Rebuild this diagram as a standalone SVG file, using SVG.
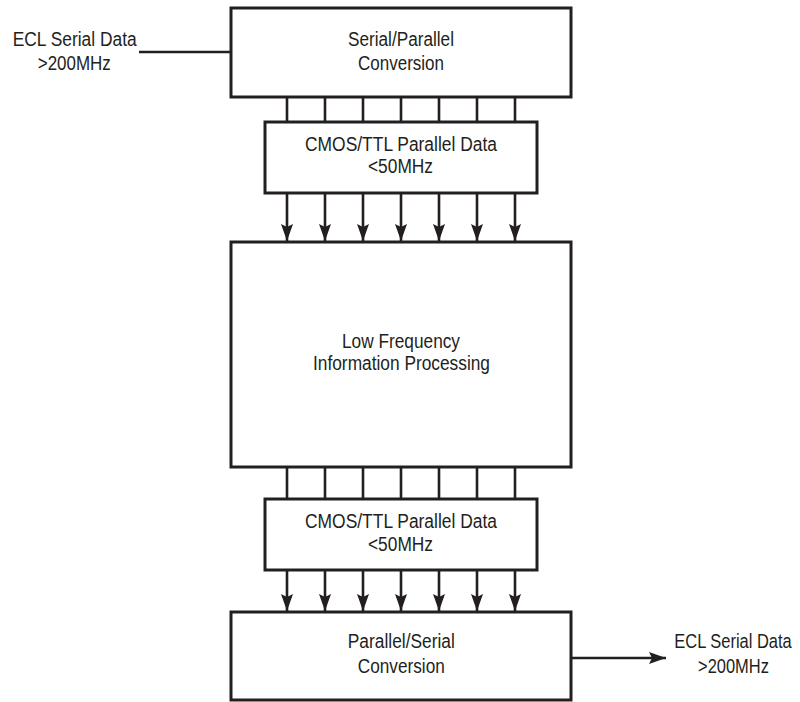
<svg xmlns="http://www.w3.org/2000/svg" width="800" height="702" viewBox="0 0 800 702">
<style>
.box{fill:#fff;stroke:#231f20;stroke-width:3}
.ln{stroke:#231f20;stroke-width:2.6;fill:none}
.t{font-family:"Liberation Sans",Arial,sans-serif;font-size:19.5px;fill:#231f20;text-anchor:middle}
</style>
<defs>
<marker id="ah" markerUnits="userSpaceOnUse" markerWidth="20" markerHeight="14" refX="17" refY="6.5" orient="auto">
<path d="M0,0.5 L17,6.5 L0,12.5 L3,6.5 Z" fill="#231f20"/>
</marker>
</defs>
<rect width="800" height="702" fill="#fff"/>
<g id="connectors">
<line class="ln" x1="139" y1="52" x2="231" y2="52"/>
<g id="bus1">
<line class="ln" x1="287" y1="97" x2="287" y2="122"/>
<line class="ln" x1="325" y1="97" x2="325" y2="122"/>
<line class="ln" x1="363" y1="97" x2="363" y2="122"/>
<line class="ln" x1="401" y1="97" x2="401" y2="122"/>
<line class="ln" x1="439" y1="97" x2="439" y2="122"/>
<line class="ln" x1="477" y1="97" x2="477" y2="122"/>
<line class="ln" x1="515" y1="97" x2="515" y2="122"/>
</g>
<g id="bus2">
<line class="ln" x1="287" y1="193" x2="287" y2="241" marker-end="url(#ah)"/>
<line class="ln" x1="325" y1="193" x2="325" y2="241" marker-end="url(#ah)"/>
<line class="ln" x1="363" y1="193" x2="363" y2="241" marker-end="url(#ah)"/>
<line class="ln" x1="401" y1="193" x2="401" y2="241" marker-end="url(#ah)"/>
<line class="ln" x1="439" y1="193" x2="439" y2="241" marker-end="url(#ah)"/>
<line class="ln" x1="477" y1="193" x2="477" y2="241" marker-end="url(#ah)"/>
<line class="ln" x1="515" y1="193" x2="515" y2="241" marker-end="url(#ah)"/>
</g>
<g id="bus3">
<line class="ln" x1="287" y1="467" x2="287" y2="499"/>
<line class="ln" x1="325" y1="467" x2="325" y2="499"/>
<line class="ln" x1="363" y1="467" x2="363" y2="499"/>
<line class="ln" x1="401" y1="467" x2="401" y2="499"/>
<line class="ln" x1="439" y1="467" x2="439" y2="499"/>
<line class="ln" x1="477" y1="467" x2="477" y2="499"/>
<line class="ln" x1="515" y1="467" x2="515" y2="499"/>
</g>
<g id="bus4">
<line class="ln" x1="287" y1="570" x2="287" y2="611" marker-end="url(#ah)"/>
<line class="ln" x1="325" y1="570" x2="325" y2="611" marker-end="url(#ah)"/>
<line class="ln" x1="363" y1="570" x2="363" y2="611" marker-end="url(#ah)"/>
<line class="ln" x1="401" y1="570" x2="401" y2="611" marker-end="url(#ah)"/>
<line class="ln" x1="439" y1="570" x2="439" y2="611" marker-end="url(#ah)"/>
<line class="ln" x1="477" y1="570" x2="477" y2="611" marker-end="url(#ah)"/>
<line class="ln" x1="515" y1="570" x2="515" y2="611" marker-end="url(#ah)"/>
</g>
<line class="ln" x1="571" y1="658" x2="666" y2="658" marker-end="url(#ah)"/>
</g>
<g id="in-label">
<text class="t" x="74.7" y="46" textLength="124" lengthAdjust="spacingAndGlyphs">ECL Serial Data</text>
<text class="t" x="74.3" y="70" textLength="73" lengthAdjust="spacingAndGlyphs">&gt;200MHz</text>
</g>
<g id="sp-conv">
<rect class="box" x="231" y="8" width="340" height="89"/>
<text class="t" x="401" y="46" textLength="106" lengthAdjust="spacingAndGlyphs">Serial/Parallel</text>
<text class="t" x="401" y="70" textLength="86" lengthAdjust="spacingAndGlyphs">Conversion</text>
</g>
<g id="cmos1">
<rect class="box" x="265" y="122" width="272" height="71"/>
<text class="t" x="401" y="151" textLength="192" lengthAdjust="spacingAndGlyphs">CMOS/TTL Parallel Data</text>
<text class="t" x="400.5" y="173" textLength="65" lengthAdjust="spacingAndGlyphs">&lt;50MHz</text>
</g>
<g id="lfip">
<rect class="box" x="231" y="242" width="340" height="225"/>
<text class="t" x="401" y="348" textLength="118" lengthAdjust="spacingAndGlyphs">Low Frequency</text>
<text class="t" x="401.5" y="370" textLength="177" lengthAdjust="spacingAndGlyphs">Information Processing</text>
</g>
<g id="cmos2">
<rect class="box" x="265" y="499" width="272" height="71"/>
<text class="t" x="401" y="528" textLength="192" lengthAdjust="spacingAndGlyphs">CMOS/TTL Parallel Data</text>
<text class="t" x="400.5" y="551" textLength="65" lengthAdjust="spacingAndGlyphs">&lt;50MHz</text>
</g>
<g id="ps-conv">
<rect class="box" x="231" y="612" width="340" height="88"/>
<text class="t" x="401.3" y="648" textLength="107" lengthAdjust="spacingAndGlyphs">Parallel/Serial</text>
<text class="t" x="401.3" y="673" textLength="87" lengthAdjust="spacingAndGlyphs">Conversion</text>
</g>
<g id="out-label">
<text class="t" transform="translate(733,648) scale(0.845,1)" x="0" y="0">ECL Serial Data</text>
<text class="t" transform="translate(733.5,673) scale(0.845,1)" x="0" y="0">&gt;200MHz</text>
</g>
</svg>
